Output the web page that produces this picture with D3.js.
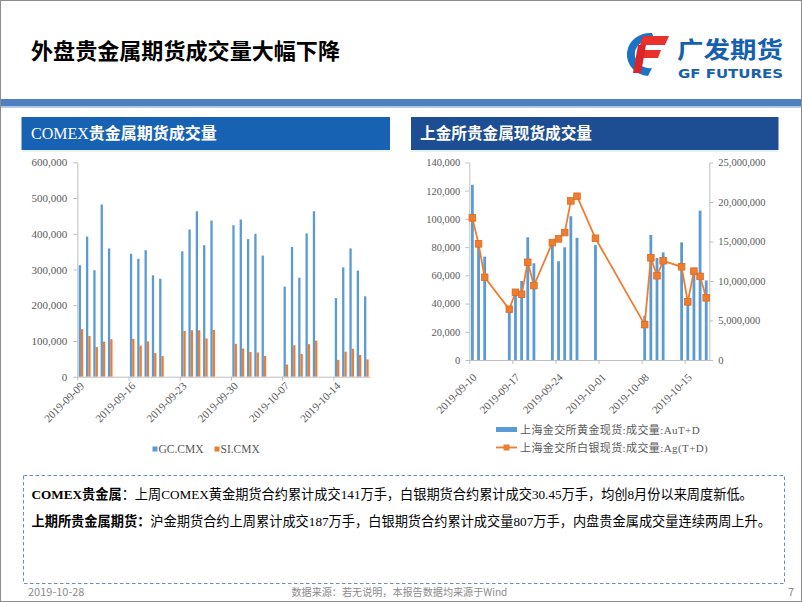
<!DOCTYPE html>
<html><head><meta charset="utf-8">
<script src="https://cdn.jsdelivr.net/npm/d3@7"></script>
<style>body{margin:0;background:#fff} svg{display:block}</style>
</head><body>
<svg id="c" width="802" height="602"></svg>
<script>
// ---------- DATA ----------
const comexDates = ["2019-09-09","2019-09-10","2019-09-11","2019-09-12","2019-09-13",
  "2019-09-16","2019-09-17","2019-09-18","2019-09-19","2019-09-20",
  "2019-09-23","2019-09-24","2019-09-25","2019-09-26","2019-09-27",
  "2019-09-30","2019-10-01","2019-10-02","2019-10-03","2019-10-04",
  "2019-10-07","2019-10-08","2019-10-09","2019-10-10","2019-10-11",
  "2019-10-14","2019-10-15","2019-10-16","2019-10-17","2019-10-18"];
const gcValues = [312000,392000,298000,482000,359000, 344000,330000,354000,284000,274000,
  351000,412000,463000,368000,437000, 424000,440000,385000,400000,339000,
  252000,363000,277000,401000,463000, 220000,306000,359000,297000,225000];
const siValues = [133000,114000,83000,98000,105000, 106000,87000,99000,66000,58000,
  128000,130000,130000,107000,131000, 92000,79000,69000,68000,58000,
  34000,88000,64000,91000,101000, 47000,70000,78000,61000,48500];
const comexTicks = ["2019-09-09","2019-09-16","2019-09-23","2019-09-30","2019-10-07","2019-10-14"];
const comexYTicks = [0,100000,200000,300000,400000,500000,600000];
const comexLegend = ["GC.CMX","SI.CMX"];

const sgeDates = ["2019-09-10","2019-09-11","2019-09-12",
  "2019-09-16","2019-09-17","2019-09-18","2019-09-19","2019-09-20",
  "2019-09-23","2019-09-24","2019-09-25","2019-09-26","2019-09-27",
  "2019-09-30",
  "2019-10-08","2019-10-09","2019-10-10","2019-10-11",
  "2019-10-14","2019-10-15","2019-10-16","2019-10-17","2019-10-18"];
const auValues = [124200,80000,73300, 35000,46800,56000,87000,68600,
  81600,70000,79900,101900,86600, 81400,
  31500,88600,72300,76300, 83400,39000,63500,105900,56400];
const agValues = [17990000,14700000,10470000, 6420000,8570000,8320000,12370000,9420000,
  14860000,15330000,16130000,20140000,20730000, 15410000,
  4480000,12940000,10660000,12560000, 11800000,7360000,11250000,10580000,7870000];
const sgeTicks = ["2019-09-10","2019-09-17","2019-09-24","2019-10-01","2019-10-08","2019-10-15"];
const sgeLeftTicks = [0,20000,40000,60000,80000,100000,120000,140000];
const sgeRightTicks = [0,5000000,10000000,15000000,20000000,25000000];
const sgeLegend = ["上海金交所黄金现货:成交量:AuT+D","上海金交所白银现货:成交量:Ag(T+D)"];

// ---------- STYLE ----------
const BLUE = "#5B9BD5", ORANGE = "#ED7D31", AXIS = "#bfbfbf", LBL = "#595959";
const SERIF = "'Liberation Serif','Times New Roman',serif";
const CJK = "'Noto Sans CJK SC','Noto Sans',sans-serif";
const parse = d3.utcParse("%Y-%m-%d");
const fmt = d3.format(",");
const svg = d3.select("#c");

// fit a single text to a target width by font-size
function fitText(sel, target){
  const n = sel.node(); const fs = +sel.attr("font-size"); const w = n.getComputedTextLength();
  if (w > 0) sel.attr("font-size", (fs*target/w).toFixed(2));
  return sel;
}

// page frame
svg.append("rect").attr("x",0.5).attr("y",0.5).attr("width",801).attr("height",601)
  .attr("fill","#fff").attr("stroke","#8c8c8c").attr("stroke-width",1);

// title
svg.append("text").attr("x",31).attr("y",59).attr("font-family",CJK).attr("font-weight","bold")
  .attr("font-size",22).attr("fill","#000").attr("textLength",309).attr("lengthAdjust","spacingAndGlyphs")
  .text("外盘贵金属期货成交量大幅下降");

// logo
const logo = svg.append("g");
logo.append("path").attr("d","M652,33 A23,21.5 0 1 0 648,76 L652,68 A15,14 0 1 1 655,41 Z").attr("fill","#1a73c6");
logo.append("path").attr("d","M643,36 L669,36 L665,45 L640,45 Z").attr("fill","#e8322b");
logo.append("path").attr("d","M640,50 L661,50 L658,58 L638,58 Z").attr("fill","#e8322b");
logo.append("path").attr("d","M638,45 L646,45 L641,73 L633,73 Z").attr("fill","#d9262b");
logo.append("text").attr("x",677).attr("y",57.5).attr("font-family",CJK).attr("font-weight","bold")
  .attr("font-size",23).attr("fill","#1660b0").attr("textLength",106).attr("lengthAdjust","spacingAndGlyphs").text("广发期货");
logo.append("text").attr("x",678).attr("y",77.5).attr("font-family","'DejaVu Sans',sans-serif").attr("font-weight","bold")
  .attr("font-size",12).attr("fill","#1660b0").attr("textLength",105).attr("lengthAdjust","spacingAndGlyphs").text("GF FUTURES");

// blue band
svg.append("rect").attr("x",1).attr("y",99).attr("width",800).attr("height",7.5).attr("fill","#4f7fbf");
svg.append("rect").attr("x",1).attr("y",106.5).attr("width",800).attr("height",1.5).attr("fill","#b6cbe8");

// panel headers
svg.append("rect").attr("x",21.5).attr("y",117).attr("width",368.5).attr("height",33).attr("fill","#1862b3");
svg.append("rect").attr("x",411).attr("y",117).attr("width",367.5).attr("height",33).attr("fill","#1d4d92");
svg.append("rect").attr("x",21.5).attr("y",150).attr("width",368.5).attr("height",2).attr("fill","#e4f6fb");
svg.append("rect").attr("x",411).attr("y",150).attr("width",367.5).attr("height",2).attr("fill","#e4f6fb");
const h1 = svg.append("text").attr("x",31).attr("y",139).attr("fill","#fff").attr("font-size",16).attr("font-weight","bold");
h1.append("tspan").attr("font-family",SERIF).attr("font-weight","normal").text("COMEX");
h1.append("tspan").attr("font-family",CJK).text("贵金属期货成交量");
svg.append("text").attr("x",420).attr("y",139).attr("fill","#fff").attr("font-size",16).attr("font-weight","bold")
  .attr("font-family",CJK).attr("textLength",172).attr("lengthAdjust","spacingAndGlyphs").text("上金所贵金属现货成交量");

function styleAxis(g){
  g.selectAll("path.domain").attr("stroke",AXIS);
  g.selectAll(".tick line").attr("stroke",AXIS);
  g.selectAll(".tick text").attr("fill",LBL).attr("font-family",SERIF).attr("font-size",10.5);
}

// ---------- LEFT CHART ----------
const xA = d3.scaleUtc().domain([parse("2019-09-09"), parse("2019-10-19")]).range([77.3, 370]);
const dayA = xA(parse("2019-09-10")) - xA(parse("2019-09-09"));
const yA = d3.scaleLinear().domain([0,600000]).range([376.7,162.3]);
const lc = svg.append("g");
const bw = 2.3;
lc.append("g").selectAll("rect").data(comexDates).join("rect")
  .attr("x",(d)=>xA(parse(d))+dayA/2-bw).attr("width",bw)
  .attr("y",(d,i)=>yA(gcValues[i])).attr("height",(d,i)=>yA(0)-yA(gcValues[i])).attr("fill",BLUE);
lc.append("g").selectAll("rect").data(comexDates).join("rect")
  .attr("x",(d)=>xA(parse(d))+dayA/2).attr("width",bw)
  .attr("y",(d,i)=>yA(siValues[i])).attr("height",(d,i)=>yA(0)-yA(siValues[i])).attr("fill",ORANGE);
const ayA = lc.append("g").attr("transform",`translate(${xA.range()[0]},0)`)
  .call(d3.axisLeft(yA).tickValues(comexYTicks).tickFormat(fmt).tickSize(4).tickSizeOuter(0).tickPadding(6));
styleAxis(ayA);
ayA.selectAll(".tick text").attr("font-size",11);
const axA = lc.append("g").attr("transform",`translate(0,${yA(0)})`)
  .call(d3.axisBottom(xA).tickValues(comexTicks.map(parse)).tickFormat(d3.utcFormat("%Y-%m-%d")).tickSize(4).tickSizeOuter(0));
styleAxis(axA);
axA.selectAll(".tick text").attr("x",0).attr("y",0).attr("dy",0).attr("text-anchor","end").attr("font-size",11)
  .attr("transform",`translate(${dayA/2+3.5},10) rotate(-45)`);
// legend left
const lgA = lc.append("g");
comexLegend.forEach((name,i)=>{
  const x0 = [152.5,214.5][i];
  lgA.append("rect").attr("x",x0).attr("y",446.5).attr("width",5).attr("height",5).attr("fill",[BLUE,ORANGE][i]);
  lgA.append("text").attr("x",x0+6).attr("y",452.5).attr("font-family",SERIF).attr("font-size",11.5).attr("fill",LBL).text(name);
});

// ---------- RIGHT CHART ----------
const xB = d3.scaleUtc().domain([parse("2019-09-10"), parse("2019-10-19")]).range([469.3, 709.3]);
const dayB = xB(parse("2019-09-11")) - xB(parse("2019-09-10"));
const yB = d3.scaleLinear().domain([0,140000]).range([360,162.5]);
const yB2 = d3.scaleLinear().domain([0,25000000]).range([360,162.5]);
const rc = svg.append("g");
const bw2 = 2.8;
rc.append("g").selectAll("rect").data(sgeDates).join("rect")
  .attr("x",d=>xB(parse(d))+dayB/2-bw2/2).attr("width",bw2)
  .attr("y",(d,i)=>yB(auValues[i])).attr("height",(d,i)=>yB(0)-yB(auValues[i])).attr("fill",BLUE);
const ayB = rc.append("g").attr("transform",`translate(${xB.range()[0]},0)`)
  .call(d3.axisLeft(yB).tickValues(sgeLeftTicks).tickFormat(fmt).tickSize(4).tickSizeOuter(0).tickPadding(5));
styleAxis(ayB);
const ayB2 = rc.append("g").attr("transform",`translate(${xB.range()[1]},0)`)
  .call(d3.axisRight(yB2).tickValues(sgeRightTicks).tickFormat(fmt).tickSize(4).tickSizeOuter(0).tickPadding(5));
styleAxis(ayB2);
const axB = rc.append("g").attr("transform",`translate(0,${yB(0)})`)
  .call(d3.axisBottom(xB).tickValues(sgeTicks.map(parse)).tickFormat(d3.utcFormat("%Y-%m-%d")).tickSize(4).tickSizeOuter(0));
styleAxis(axB);
axB.selectAll(".tick text").attr("x",0).attr("y",0).attr("dy",0).attr("text-anchor","end").attr("font-size",11)
  .attr("transform",`translate(${dayB/2+4.5},18) rotate(-45)`);
const agPts = sgeDates.map((d,i)=>({x:xB(parse(d))+dayB/2, y:yB2(agValues[i])}));
rc.append("path").datum(agPts).attr("fill","none").attr("stroke",ORANGE).attr("stroke-width",1.8)
  .attr("d",d3.line().x(d=>d.x).y(d=>d.y));
rc.append("g").selectAll("rect").data(agPts).join("rect")
  .attr("x",d=>d.x-3.3).attr("y",d=>d.y-3.3).attr("width",6.6).attr("height",6.6)
  .attr("fill",ORANGE).attr("stroke","#e0691c").attr("stroke-width",0.8);
// legend right
const lgB = rc.append("g");
lgB.append("rect").attr("x",496).attr("y",427).attr("width",21).attr("height",5).attr("fill",BLUE);
lgB.append("line").attr("x1",496).attr("x2",517).attr("y1",447.5).attr("y2",447.5).attr("stroke",ORANGE).attr("stroke-width",1.8);
lgB.append("rect").attr("x",503.5).attr("y",444.5).attr("width",6).attr("height",6).attr("fill",ORANGE);
sgeLegend.forEach((name,i)=>{
  lgB.append("text").attr("x",520).attr("y",[433.5,451.5][i]).attr("font-family",SERIF+","+CJK)
    .attr("font-size",11).attr("fill",LBL).attr("letter-spacing",0.4).text(name);
});

// ---------- TEXT BOX ----------
svg.append("rect").attr("x",23.5).attr("y",475.5).attr("width",761).attr("height",108)
  .attr("fill","none").attr("stroke","#6b8cc2").attr("stroke-width",1).attr("stroke-dasharray","3.5,2.5");
function richLine(y, len, parts){
  const t = svg.append("text").attr("x",31.5).attr("y",y).attr("font-size",14).attr("fill","#000");
  parts.forEach(p=>{
    t.append("tspan").attr("font-family",p.s?SERIF:CJK).attr("font-weight",p.b?"bold":"normal").text(p.t);
  });
  fitText(t, len);
}
richLine(499, 722, [
  {t:"COMEX",s:1,b:1},{t:"贵金属",b:1},{t:"：上周"},{t:"COMEX",s:1},{t:"黄金期货合约累计成交"},{t:"141",s:1},
  {t:"万手，白银期货合约累计成交"},{t:"30.45",s:1},{t:"万手，均创"},{t:"8",s:1},{t:"月份以来周度新低。"}]);
richLine(526, 740, [
  {t:"上期所贵金属期货：",b:1},{t:"沪金期货合约上周累计成交"},{t:"187",s:1},{t:"万手，白银期货合约累计成交量"},
  {t:"807",s:1},{t:"万手，内盘贵金属成交量连续两周上升。"}]);

// ---------- FOOTER ----------
svg.append("text").attr("x",28).attr("y",596).attr("font-family",CJK).attr("font-size",11).attr("fill","#8c8c8c").text("2019-10-28");
fitText(svg.append("text").attr("x",291.5).attr("y",596).attr("font-family",CJK).attr("font-size",10.5).attr("fill","#8c8c8c")
  .text("数据来源：若无说明，本报告数据均来源于Wind"), 216);
svg.append("text").attr("x",788).attr("y",596).attr("font-family",CJK).attr("font-size",11).attr("fill","#8c8c8c").text("7");
</script>
</body></html>
